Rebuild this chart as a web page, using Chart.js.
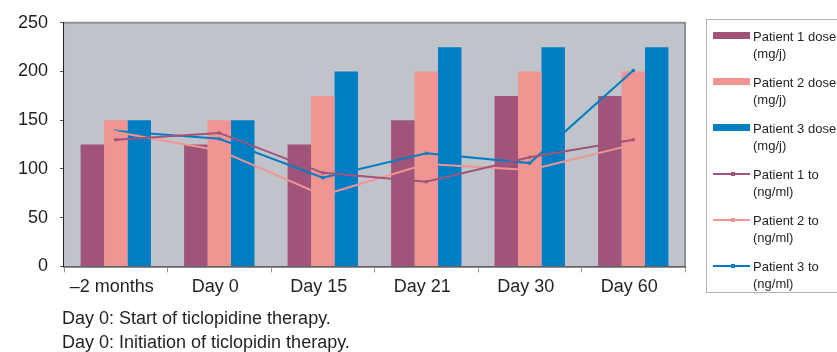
<!DOCTYPE html>
<html>
<head>
<meta charset="utf-8">
<script src="https://cdn.jsdelivr.net/npm/chart.js@4"></script>
<style>
  html, body { margin: 0; padding: 0; background: #fff; width: 837px; height: 352px; overflow: hidden; }
  body { position: relative; font-family: "Liberation Sans", Arial, sans-serif; color: #231f20; }
  #wrap { position: absolute; left: 0; top: 0; width: 837px; height: 308px; }
  #legend { position: absolute; left: 706px; top: 19px; width: 150px; height: 274px; border: 1px solid #b4b4b4; box-sizing: border-box; }
  .item { position: absolute; left: 0; width: 150px; height: 40px; }
  .sw { position: absolute; left: 6px; width: 37px; }
  .txt { position: absolute; left: 46px; top: 0; font-size: 13px; line-height: 17px; white-space: nowrap; }
  .mk { position: absolute; left: 18px; top: -1px; width: 4px; height: 4px; }
  .caption { position: absolute; left: 62px; font-size: 18px; line-height: 22px; white-space: nowrap; }
</style>
</head>
<body>
<div id="wrap"><canvas id="c" width="837" height="308"></canvas></div>
<div id="legend"></div>
<div class="caption" style="top:307px">Day 0: Start of ticlopidine therapy.</div>
<div class="caption" style="top:331px">Day 0: Initiation of ticlopidin therapy.</div>
<script>
const categories = ['\u20132 months', 'Day 0', 'Day 15', 'Day 21', 'Day 30', 'Day 60'];
const dose1 = [125, 125, 125, 150, 175, 175];
const dose2 = [150, 150, 175, 200, 200, 200];
const dose3 = [150, 150, 200, 225, 225, 225];
const level1 = [130, 137, 96, 87, 112, 130];
const level2 = [138, 119, 73, 105, 99, 125];
const level3 = [139, 131, 91, 116, 106, 201];
const yTicks = [0, 50, 100, 150, 200, 250];
const seriesLabels = [
  ['Patient 1 dose', '(mg/j)'], ['Patient 2 dose', '(mg/j)'], ['Patient 3 dose', '(mg/j)'],
  ['Patient 1 to', '(ng/ml)'], ['Patient 2 to', '(ng/ml)'], ['Patient 3 to', '(ng/ml)']
];

const PURPLE = '#a1547a', PINK = '#f09592', BLUE = '#007ec4';
const FONT = '"Liberation Sans", Arial, sans-serif';

const bgPlugin = {
  id: 'bg',
  beforeDatasetsDraw(chart) {
    const {ctx, chartArea: a} = chart;
    ctx.save();
    ctx.fillStyle = '#c0c3ca';
    ctx.fillRect(a.left, a.top, a.right - a.left, a.bottom - a.top);
    ctx.strokeStyle = '#8e9196';
    ctx.lineWidth = 2;
    ctx.beginPath();
    ctx.moveTo(a.left, a.top);
    ctx.lineTo(a.right, a.top);
    ctx.lineTo(a.right, a.bottom);
    ctx.stroke();
    ctx.restore();
  }
};

function barDs(label, data, color) {
  return { type: 'bar', label, data, backgroundColor: color, borderWidth: 0, order: 2,
           categoryPercentage: 0.68, barPercentage: 1.0 };
}
function lineDs(label, data, color) {
  return { type: 'line', label, data, borderColor: color, backgroundColor: color, borderWidth: 2,
           pointStyle: 'rect', pointRadius: 2.2, pointBorderWidth: 0, tension: 0, order: 1, fill: false };
}

const chart = new Chart(document.getElementById('c'), {
  type: 'bar',
  data: {
    labels: categories,
    datasets: [
      barDs(seriesLabels[0].join(' '), dose1, PURPLE),
      barDs(seriesLabels[1].join(' '), dose2, PINK),
      barDs(seriesLabels[2].join(' '), dose3, BLUE),
      lineDs(seriesLabels[3].join(' '), level1, PURPLE),
      lineDs(seriesLabels[4].join(' '), level2, PINK),
      lineDs(seriesLabels[5].join(' '), level3, BLUE)
    ]
  },
  options: {
    responsive: false,
    animation: false,
    devicePixelRatio: 1,
    layout: { padding: { left: 6, right: 152, top: 8, bottom: 6 } },
    plugins: { legend: { display: false }, tooltip: { enabled: false } },
    scales: {
      x: {
        grid: { display: true, drawOnChartArea: false, offset: true, tickLength: 6, color: '#9a9a9a' },
        border: { display: true, color: '#231f20', width: 1.5 },
        ticks: { color: '#231f20', font: { family: FONT, size: 18 }, padding: 4, labelOffset: -4 }
      },
      y: {
        min: 0, max: 250,
        afterBuildTicks(scale) { scale.ticks = yTicks.map(v => ({ value: v })); },
        grid: { display: true, drawOnChartArea: false, tickLength: 4, color: '#555' },
        border: { display: true, color: '#231f20', width: 1.5 },
        ticks: { color: '#231f20', font: { family: FONT, size: 18 }, padding: 12 }
      }
    }
  },
  plugins: [bgPlugin]
});

// legend built from the dataset list
const legend = document.getElementById('legend');
chart.data.datasets.forEach((ds, i) => {
  const item = document.createElement('div');
  item.className = 'item';
  item.style.top = (8 + i * 46) + 'px';
  const sw = document.createElement('div');
  sw.className = 'sw';
  if (ds.type === 'bar') {
    sw.style.top = '4px'; sw.style.height = '7px'; sw.style.background = ds.backgroundColor;
  } else {
    sw.style.top = '7px'; sw.style.height = '2px'; sw.style.background = ds.borderColor;
    const mk = document.createElement('div');
    mk.className = 'mk'; mk.style.background = ds.borderColor;
    sw.appendChild(mk);
  }
  const txt = document.createElement('div');
  txt.className = 'txt';
  txt.innerHTML = seriesLabels[i].join('<br>');
  item.appendChild(sw); item.appendChild(txt);
  legend.appendChild(item);
});
</script>
</body>
</html>
